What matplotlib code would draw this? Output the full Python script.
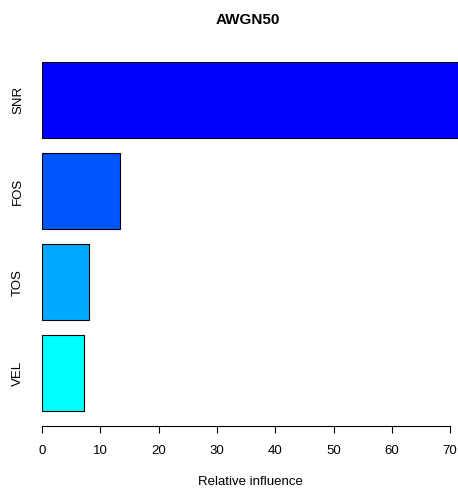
import matplotlib.pyplot as plt

# relative influence of each variable (bottom to top)
variables = ['VEL', 'TOS', 'FOS', 'SNR']
influence = [7.15, 8.05, 13.4, 71.4]
bar_colors = ['#00FFFF', '#00AAFF', '#0055FF', '#0000FF']
xticks = [0, 10, 20, 30, 40, 50, 60, 70]

plt.rcParams['font.family'] = ['Liberation Sans', 'DejaVu Sans']

fig = plt.figure(figsize=(4.58, 4.88), dpi=100)
ax = fig.add_axes([42 / 458, 62 / 488, 416 / 458, 381 / 488])

# R barplot layout: width 1, space 0.2
ypos = [0.2 + 1.2 * i + 0.5 for i in range(len(variables))]
ax.barh(ypos, influence, height=1.0, color=bar_colors,
        edgecolor='black', linewidth=0.8)

ax.set_xlim(0, 416 / 5.83)
ax.set_ylim(0, 5.03)

for side in ['top', 'right', 'left']:
    ax.spines[side].set_visible(False)
ax.spines['bottom'].set_bounds(0, 70)
ax.spines['bottom'].set_linewidth(0.8)

ax.set_xticks(xticks)
ax.tick_params(axis='x', length=5, width=0.8, pad=8.5, labelsize=9.5)
ax.set_yticks(ypos)
ax.set_yticklabels(variables, rotation=90, va='center', fontsize=9.5)
ax.tick_params(axis='y', length=0, pad=13)

ax.set_xlabel('Relative influence', fontsize=9.5, labelpad=14)
fig.text(248 / 458, 1 - 20 / 488, 'AWGN50', ha='center', va='center',
         fontsize=11, fontweight='bold')

fig.savefig('out.png', dpi=100)
